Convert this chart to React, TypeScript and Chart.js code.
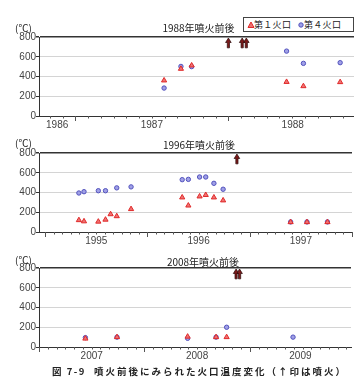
import React, { useEffect, useRef } from 'react';
import { Chart, registerables } from 'chart.js';

Chart.register(...registerables);

// ---------- data (dates as decimal years, temperatures in °C) ----------
const seriesNames = ['第１火口', '第４火口'];
const panelTitles = ['1988年噴火前後', '1996年噴火前後', '2008年噴火前後'];
const unitLabel = '(℃)';
const caption = '噴火前後にみられた火口温度変化（↑印は噴火）';
const captionNo = '図 7-9';
const yTicks = [0, 200, 400, 600, 800];

// panel 1: around the 1988 eruption
const p1Range = [1986.763, 1988.84];
const p1Crater1Dates = [1987.58, 1987.69, 1987.76, 1988.38, 1988.49, 1988.73];
const p1Crater1Temps = [360, 478, 512, 345, 302, 343];
const p1Crater4Dates = [1987.58, 1987.69, 1987.76, 1988.38, 1988.49, 1988.73];
const p1Crater4Temps = [283, 502, 500, 657, 533, 540];
const p1Eruptions = [1988.0, 1988.09, 1988.117];

// panel 2: around the 1996 eruption
const p2Range = [1994.94, 1998.0];
const p2Crater1Dates = [1995.33, 1995.38, 1995.52, 1995.59, 1995.64, 1995.7, 1995.84, 1996.34, 1996.4, 1996.51, 1996.57, 1996.65, 1996.74, 1997.4, 1997.56, 1997.76];
const p2Crater1Temps = [120, 108, 105, 125, 180, 160, 232, 350, 268, 360, 375, 350, 320, 100, 100, 100];
const p2Crater4Dates = [1995.33, 1995.38, 1995.52, 1995.59, 1995.7, 1995.84, 1996.34, 1996.4, 1996.51, 1996.57, 1996.65, 1996.74, 1997.4, 1997.56, 1997.76];
const p2Crater4Temps = [395, 408, 418, 418, 447, 457, 530, 533, 557, 557, 493, 433, 102, 102, 102];
const p2Eruptions = [1996.875];

// panel 3: around the 2008 eruption
const p3Range = [2007.0, 2009.96];
const p3Crater1Dates = [2007.44, 2007.74, 2008.41, 2008.68, 2008.78];
const p3Crater1Temps = [85, 100, 105, 100, 100];
const p3Crater4Dates = [2007.44, 2007.74, 2008.41, 2008.68, 2008.78, 2009.41];
const p3Crater4Temps = [95, 100, 88, 100, 200, 100];
const p3Eruptions = [2008.87, 2008.903];

// ---------- styles ----------
const RED_FILL = '#ef7272';
const RED_LINE = '#e02a2a';
const BLUE_FILL = '#a0a0e6';
const BLUE_LINE = '#5252bd';
const AXIS = '#333';
const TICK_FONT = { family: '"Liberation Sans", Arial, sans-serif', size: 10 };
const JP = '"Noto Sans CJK JP", "Noto Sans", sans-serif';

function yearLabelPositions(min: number, max: number): number[] {
  const out: number[] = [];
  for (let y = Math.floor(min); y <= Math.floor(max); y++) {
    const a = Math.max(y, min);
    const b = Math.min(y + 1, max);
    if (b - a >= 0.2) out.push((a + b) / 2);
  }
  return out;
}

const monthTicks = {
  id: 'monthTicks',
  afterDraw(chart: any) {
    const xs = chart.scales.x;
    const ctx = chart.ctx;
    const y0 = xs.top;
    ctx.save();
    ctx.strokeStyle = '#555';
    ctx.lineWidth = 1;
    const first = Math.ceil(xs.min * 12 - 1e-9);
    const last = Math.floor(xs.max * 12 + 1e-9);
    for (let m = first; m <= last; m++) {
      const x = Math.round(xs.getPixelForValue(m / 12)) + 0.5;
      const len = m % 12 === 0 ? 5 : 2.5;
      ctx.beginPath();
      ctx.moveTo(x, y0);
      ctx.lineTo(x, y0 + len);
      ctx.stroke();
    }
    ctx.restore();
  },
};

function eruptionArrows(dates: number[]) {
  return {
    id: 'eruptionArrows',
    afterDatasetsDraw(chart: any) {
      const xs = chart.scales.x;
      const ys = chart.scales.y;
      const ctx = chart.ctx;
      const yTop = ys.getPixelForValue(800) + 1;
      const yBot = ys.getPixelForValue(690);
      ctx.save();
      ctx.fillStyle = '#7a1a1a';
      ctx.strokeStyle = '#2a0808';
      ctx.lineWidth = 0.7;
      dates.forEach((d) => {
        const x = xs.getPixelForValue(d);
        const hw = 2.8;
        const sw = 1.1;
        const hh = 4.5;
        ctx.beginPath();
        ctx.moveTo(x, yTop);
        ctx.lineTo(x - hw, yTop + hh);
        ctx.lineTo(x - sw, yTop + hh);
        ctx.lineTo(x - sw, yBot);
        ctx.lineTo(x + sw, yBot);
        ctx.lineTo(x + sw, yTop + hh);
        ctx.lineTo(x + hw, yTop + hh);
        ctx.closePath();
        ctx.fill();
        ctx.stroke();
      });
      ctx.restore();
    },
  };
}

type PanelSpec = {
  range: number[];
  c1x: number[];
  c1y: number[];
  c4x: number[];
  c4y: number[];
  eruptions: number[];
  padTop: number;
};

function makeConfig(p: PanelSpec): any {
  const pts = (xs: number[], ys: number[]) => xs.map((x, i) => ({ x, y: ys[i] }));
  return {
    type: 'scatter',
    data: {
      datasets: [
        {
          label: seriesNames[0],
          data: pts(p.c1x, p.c1y),
          pointStyle: 'triangle',
          pointRadius: 3,
          backgroundColor: RED_FILL,
          borderColor: RED_LINE,
          borderWidth: 1,
        },
        {
          label: seriesNames[1],
          data: pts(p.c4x, p.c4y),
          pointStyle: 'circle',
          pointRadius: 2.2,
          backgroundColor: BLUE_FILL,
          borderColor: BLUE_LINE,
          borderWidth: 1,
        },
      ],
    },
    options: {
      responsive: false,
      animation: false,
      events: [],
      layout: { padding: { top: p.padTop, left: 0, right: 0, bottom: 0 } },
      plugins: {
        legend: { display: false },
        tooltip: { enabled: false },
        title: { display: false },
      },
      scales: {
        x: {
          type: 'linear',
          min: p.range[0],
          max: p.range[1],
          afterBuildTicks: (s: any) => {
            s.ticks = yearLabelPositions(p.range[0], p.range[1]).map((v) => ({ value: v }));
          },
          afterFit: (s: any) => {
            s.height = 18;
          },
          ticks: {
            autoSkip: false,
            maxRotation: 0,
            padding: 3,
            font: TICK_FONT,
            color: '#444',
            callback: (v: any) => String(Math.floor(Number(v))),
          },
          grid: { display: true, drawOnChartArea: false, drawTicks: false },
          border: { display: true, color: AXIS, width: 1 },
        },
        y: {
          type: 'linear',
          min: 0,
          max: 800,
          afterBuildTicks: (s: any) => {
            s.ticks = yTicks.map((v) => ({ value: v }));
          },
          afterFit: (s: any) => {
            s.width = 39;
          },
          ticks: { padding: 0, font: TICK_FONT, color: '#444' },
          grid: {
            color: (ctx: any) => (ctx.tick && ctx.tick.value === 800 ? AXIS : '#d4d4d4'),
            lineWidth: (ctx: any) => (ctx.tick && ctx.tick.value === 800 ? 1.5 : 1),
            tickLength: 3,
            tickColor: AXIS,
          },
          border: { display: true, color: AXIS, width: 1 },
        },
      },
    },
    plugins: [monthTicks, eruptionArrows(p.eruptions)],
  };
}

function Panel({ spec, top, width, height }: { spec: PanelSpec; top: number; width: number; height: number }) {
  const ref = useRef<HTMLCanvasElement>(null);
  useEffect(() => {
    const chart = new Chart(ref.current as HTMLCanvasElement, makeConfig(spec));
    return () => chart.destroy();
  }, []);
  return (
    <canvas
      ref={ref}
      width={width}
      height={height}
      style={{ position: 'absolute', left: 0, top, width, height }}
    />
  );
}

function Label({ text, cx, left, cy, size, weight, spacing }: any) {
  const style: any = {
    position: 'absolute',
    top: cy - size * 0.6,
    fontFamily: JP,
    fontSize: size,
    lineHeight: size * 1.2 + 'px',
    color: '#222',
    whiteSpace: 'pre',
    fontWeight: weight || 'normal',
    letterSpacing: spacing || 0,
  };
  if (cx !== undefined) {
    style.left = cx;
    style.transform = 'translateX(-50%)';
  } else {
    style.left = left;
  }
  return <div style={style}>{text}</div>;
}

function Legend() {
  return (
    <div
      style={{
        position: 'absolute',
        left: 243,
        top: 17,
        width: 109,
        height: 13,
        border: '1px solid #444',
        background: '#fff',
        fontFamily: JP,
        fontSize: 9,
        lineHeight: '13px',
        color: '#222',
        whiteSpace: 'pre',
      }}
    >
      <svg width="8" height="8" style={{ position: 'absolute', left: 3, top: 3 }}>
        <polygon points="4,1 7,6.5 1,6.5" fill={RED_FILL} stroke={RED_LINE} strokeWidth="1" />
      </svg>
      <span style={{ position: 'absolute', left: 10, top: 0, letterSpacing: 0.3 }}>{seriesNames[0]}</span>
      <svg width="8" height="8" style={{ position: 'absolute', left: 53, top: 3 }}>
        <circle cx="4" cy="4" r="2.2" fill={BLUE_FILL} stroke={BLUE_LINE} strokeWidth="1" />
      </svg>
      <span style={{ position: 'absolute', left: 60, top: 0, letterSpacing: 0.3 }}>{seriesNames[1]}</span>
    </div>
  );
}

const panel1: PanelSpec = { range: p1Range, c1x: p1Crater1Dates, c1y: p1Crater1Temps, c4x: p1Crater4Dates, c4y: p1Crater4Temps, eruptions: p1Eruptions, padTop: 37 };
const panel2: PanelSpec = { range: p2Range, c1x: p2Crater1Dates, c1y: p2Crater1Temps, c4x: p2Crater4Dates, c4y: p2Crater4Temps, eruptions: p2Eruptions, padTop: 20 };
const panel3: PanelSpec = { range: p3Range, c1x: p3Crater1Dates, c1y: p3Crater1Temps, c4x: p3Crater4Dates, c4y: p3Crater4Temps, eruptions: p3Eruptions, padTop: 18 };

export default function App() {
  return (
    <div
      style={{
        position: 'fixed',
        left: 0,
        top: 0,
        width: 354,
        height: 383,
        overflow: 'hidden',
        background: '#fff',
      }}
    >
      <Panel spec={panel1} top={0} width={362} height={134} />
      <Panel spec={panel2} top={133} width={357} height={117} />
      <Panel spec={panel3} top={250} width={356} height={115} />

      <Label text={unitLabel} left={15} cy={27.5} size={10} />
      <Label text={unitLabel} left={15} cy={142.5} size={10} />
      <Label text={unitLabel} left={15} cy={260} size={10} />

      <Label text={panelTitles[0]} cx={198.5} cy={28} size={10} />
      <Label text={panelTitles[1]} cx={199} cy={145} size={10} />
      <Label text={panelTitles[2]} cx={203} cy={262} size={10} />

      <Legend />

      <Label text={captionNo} left={52} cy={372} size={9.5} weight="bold" spacing={1.5} />
      <Label text={caption} left={94} cy={372} size={9.5} weight="bold" spacing={2} />
    </div>
  );
}
